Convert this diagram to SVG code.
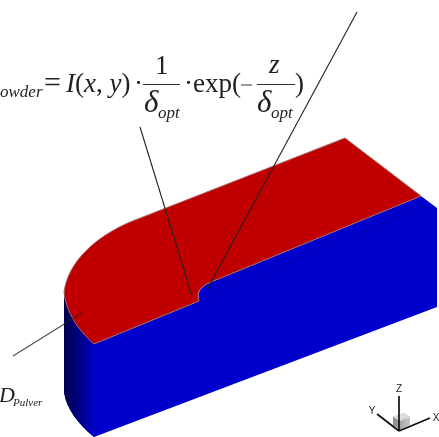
<svg xmlns="http://www.w3.org/2000/svg" width="439" height="437" viewBox="0 0 439 437">
<defs>
<linearGradient id="side" gradientUnits="userSpaceOnUse" x1="64" y1="0" x2="96" y2="0">
<stop offset="0" stop-color="#00004d"/><stop offset="0.45" stop-color="#000080"/><stop offset="1" stop-color="#0000cc"/>
</linearGradient>
<linearGradient id="cube" x1="0" y1="0" x2="1" y2="0">
<stop offset="0" stop-color="#8a8a8a"/><stop offset="1" stop-color="#c8c8c8"/>
</linearGradient>
<filter id="soft" x="-5%" y="-5%" width="110%" height="110%"><feGaussianBlur stdDeviation="0.45"/></filter>
</defs>
<style>
.m{font-family:"Liberation Serif","Times New Roman",serif;font-size:27px;fill:#222}
.i{font-style:italic}
.d{font-size:31px}
.s{font-family:"Liberation Serif","Times New Roman",serif;font-size:17px;font-style:italic;fill:#222}
.a{font-family:"Liberation Sans",Arial,sans-serif;font-size:10px;fill:#222;text-anchor:middle}
.l{stroke:#222;stroke-width:1.1;fill:none}
.f{stroke:#333;stroke-width:1.1;fill:none}
.x{stroke:#111;stroke-width:1.7;fill:none}
</style>
<rect width="439" height="437" fill="#fff"/>
<g id="body" filter="url(#soft)">
<path id="front" d="M64 292V392C66 408 78 424 94 437L437 307V208L421 196L216 280C204 284 196 290 199 301L94 344Z" fill="#0000cc"/>
<path id="corner" d="M64 292V392C66 408 78 424 94 437V344C78 330 66 312 64 292Z" fill="url(#side)"/>
<path d="M425 206L206 297" stroke="#000090" stroke-width="1" fill="none" opacity=".55"/>
<path id="top" d="M345 138L421 196L216 280C204 284 195 290 199 301L94 344C78 330 66 312 64 292C68 262 95 237 130 222Z" fill="#c00000" stroke="#a86a6a" stroke-width="1"/>
</g>
<g id="connectors" filter="url(#soft)">
<path class="l" d="M357 12L208 288"/>
<path class="l" d="M140 127L192 296"/>
<path class="l" d="M13 356L82 313" stroke-opacity=".8"/>
</g>
<g id="formula" filter="url(#soft)">
<text x="0" y="97" class="s">owder</text>
<text x="44" y="92" class="m" style="font-size:30px">=</text>
<text x="66" y="92" class="m"><tspan class="i">I</tspan>(<tspan class="i">x</tspan>, <tspan class="i">y</tspan>)</text>
<text x="134" y="92" class="m">·</text>
<path class="f" d="M143 84.500H180M257 84.500H295M241 85H252"/>
<text x="155" y="74" class="m">1</text>
<text x="144" y="112" class="m i d">δ</text>
<text x="158" y="118" class="s">opt</text>
<text x="184" y="92" class="m">·exp(</text>
<text x="269" y="73" class="m i">z</text>
<text x="257" y="112" class="m i d">δ</text>
<text x="271" y="118" class="s">opt</text>
<text x="295" y="92" class="m">)</text>
</g>
<g id="label-d" filter="url(#soft)">
<text x="-1" y="402" class="m i" style="font-size:22px">D</text>
<text x="13" y="406" class="s" style="font-size:11px">Pulver</text>
</g>
<g id="axes" filter="url(#soft)">
<path d="M393 417L404 413L410 417V425L400 430L393 425Z" fill="url(#cube)"/>
<path d="M393 417L404 413L410 417L400 421Z" fill="#ddd"/>
<path class="x" d="M399 431V396M399 431L377 414M399 431L430 418"/>
<text x="399" y="392" class="a">Z</text>
<text x="372" y="414" class="a">Y</text>
<text x="436" y="421" class="a">X</text>
</g>
</svg>
